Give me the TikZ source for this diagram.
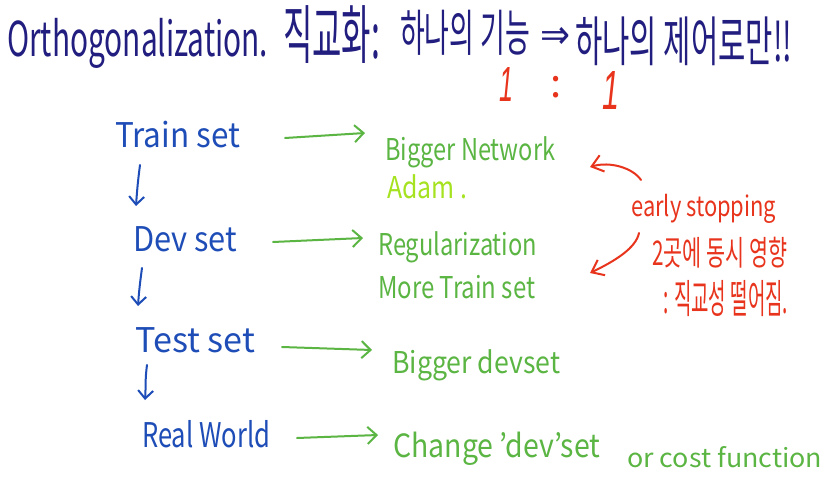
\documentclass[tikz,border=0pt]{standalone}
\usepackage{fontspec}
\setmainfont{Noto Sans CJK KR}
\newfontfamily\symfont{DejaVu Sans}
\newfontfamily\slfont{Liberation Sans}
\usetikzlibrary{arrows.meta,calc}
\newcommand{\hw}[2]{\resizebox{#1}{\height}{#2}}
\definecolor{navy}{HTML}{221E80}
\definecolor{setblue}{HTML}{1E4DB7}
\definecolor{fixgreen}{HTML}{5BB543}
\definecolor{adamgreen}{HTML}{A5E21F}
\definecolor{notered}{HTML}{E8341C}
\tikzset{
  every node/.style={inner sep=0pt, anchor=base west},
  ttl/.style={text=navy},
  setlbl/.style={text=setblue, font=\fontsize{34}{38}\selectfont},
  fixlbl/.style={text=fixgreen, font=\fontsize{30}{34}\selectfont},
  adamlbl/.style={text=adamgreen, font=\fontsize{30}{34}\selectfont},
  notelbl/.style={text=notered},
  flowarr/.style={draw=setblue, line width=2pt, line cap=round, -{Straight Barb[length=8pt,width=15pt]}},
  fixarr/.style={draw=fixgreen, line width=2pt, line cap=round, -{Straight Barb[length=9pt,width=17pt]}},
  notearr/.style={draw=notered, line width=2pt, line cap=round, -{Straight Barb[length=11pt,width=17pt]}}
}
\begin{document}
\begin{tikzpicture}[x=1pt,y=-1pt]
\useasboundingbox (0,0) rectangle (838,484);
\fill[white] (0,0) rectangle (838,484);
% title
\node[ttl, font=\fontsize{48}{50}\selectfont] (t1) at (7,57) {\hw{261pt}{Orthogonalization.}};
\node[ttl, font=\fontsize{64}{66}\selectfont] (t2) at (283,59) {\hw{97pt}{직교화:}};
\node[ttl, font=\fontsize{50}{52}\selectfont] (t3) at (400,52) {\hw{130pt}{하나의 기능}};
\node[ttl, font=\symfont\fontsize{40}{42}\selectfont, anchor=west] (t4) at (540,38) {\hw{30pt}{⇒}};
\node[ttl, font=\fontsize{54}{56}\selectfont] (t5) at (575,62) {\hw{217pt}{하나의 제어로만!!}};
% red 1:1
\node[notelbl, font=\slfont\itshape\fontsize{24}{26}\selectfont, anchor=center] (r1) at (506,85) {\resizebox{14pt}{34pt}{1}};
\node[notelbl, font=\fontsize{40}{42}\selectfont, anchor=center] (r2) at (556,87) {:};
\node[notelbl, font=\slfont\itshape\fontsize{24}{26}\selectfont, anchor=center] (r3) at (611,91) {\resizebox{17pt}{38pt}{1}};
% left column
\node[setlbl] (A1) at (115,148) {\hw{125pt}{Train set}};
\node[setlbl] (A2) at (133,251) {\hw{104pt}{Dev set}};
\node[setlbl] (A3) at (135,352) {\hw{120pt}{Test set}};
\node[setlbl] (A4) at (142,447) {\hw{128pt}{Real World}};
% fixes
\node[fixlbl] (B1) at (385,160) {\hw{170pt}{Bigger Network}};
\node[adamlbl] (B2) at (387,198) {\hw{80pt}{Adam .}};
\node[fixlbl] (B3) at (378,255) {\hw{159pt}{Regularization}};
\node[fixlbl] (B4) at (378,298) {\hw{157pt}{More Train set}};
\node[fixlbl] (B5) at (392,373) {\hw{168pt}{Bigger devset}};
\node[fixlbl, font=\fontsize{32}{36}\selectfont] (B6) at (393,457) {\hw{207pt}{Change 'dev'set}};
\node[fixlbl, font=\fontsize{26}{30}\selectfont] (B7) at (627,467) {\hw{195pt}{or cost function}};
% red notes
\node[notelbl, font=\fontsize{28}{32}\selectfont] (R1) at (631,216) {\hw{145pt}{early stopping}};
\node[notelbl, font=\fontsize{34}{38}\selectfont] (R2) at (652,265) {\hw{135pt}{2곳에 동시 영향}};
\node[notelbl, font=\fontsize{40}{44}\selectfont] (R3) at (663,313) {\hw{125pt}{: 직교성 떨어짐.}};
% flow arrows
\draw[flowarr] ($(A1.base west)+(25,17)$) .. controls +(-2,15) and +(1,-15) .. ($(A2.base west)+(3,-45)$);
\draw[flowarr] ($(A2.base west)+(9,17)$) .. controls +(-2,15) and +(1,-15) .. ($(A3.base west)+(3,-46)$);
\draw[flowarr] ($(A3.base west)+(12,13)$) .. controls +(-2,15) and +(1,-15) .. ($(A4.base west)+(3,-47)$);
% fix arrows
\draw[fixarr] ($(A1.base west)+(170,-10)$) -- ($(B1.base west)+(-20,-27)$);
\draw[fixarr] ($(A2.base west)+(140,-9)$) -- ($(B3.base west)+(-15,-17)$);
\draw[fixarr] ($(A3.base west)+(147,-5)$) -- ($(B5.base west)+(-20,-23)$);
\draw[fixarr] ($(A4.base west)+(155,-9)$) -- ($(B6.base west)+(-15,-22)$);
% note arrows
\draw[notearr] ($(R1.base west)+(10,-36)$) .. controls +(-8,-12) and +(20,-6) .. ($(B1.base west)+(205,7)$);
\draw[notearr] ($(R1.base west)+(8,17)$) .. controls +(-3,15) and +(25,-12) .. ($(B4.base west)+(212,-25)$);
\end{tikzpicture}
\end{document}
